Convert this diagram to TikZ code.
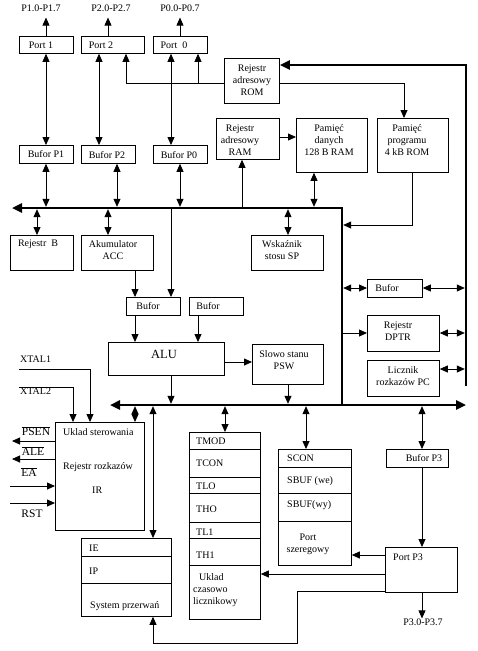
\documentclass[tikz,border=0pt]{standalone}
\usepackage{fontspec}
\setmainfont{Liberation Serif}
\usetikzlibrary{arrows.meta}
\newcommand\mybox[5]{\node[box, minimum width={#4-#2}, minimum height={#5-#3}] (#1) at (#2,#3) {};}
\begin{document}
\begin{tikzpicture}[x=1pt,y=-1pt,
  box/.style={draw, line width=0.8pt, inner sep=0pt, anchor=north west},
  lbl/.style={inner sep=0pt, font=\fontsize{10}{12}\selectfont, align=center},
  lbll/.style={lbl, anchor=west, align=left},
  sig/.style={inner sep=0pt, font=\fontsize{11.5}{13}\selectfont},
  ln/.style={line width=0.8pt},
  arr/.style={ln, -{Triangle[length=8pt,width=7pt]}},
  darr/.style={ln, {Triangle[length=8pt,width=7pt]}-{Triangle[length=8pt,width=7pt]}},
  bus/.style={line width=2.4pt},
  busarr/.style={-{Triangle[length=10pt,width=9pt]}},
  busarrb/.style={{Triangle[length=10pt,width=9pt]}-{Triangle[length=10pt,width=9pt]}}]
\fill[white] (0,0) rectangle (478,651);
\useasboundingbox (0,0) rectangle (478,651);
\coordinate (busA) at (0,208);
\coordinate (busAt) at (0,206.8);
\coordinate (busAb) at (0,209.2);
\coordinate (busB) at (0,405);
\coordinate (busBt) at (0,403.8);
\coordinate (busBb) at (0,406.2);

% ---------- boxes ----------
\mybox{port1}{19}{36}{73}{53}
\mybox{port2}{81}{36}{144}{53}
\mybox{port0}{153}{36}{207}{53}
\mybox{bp1}{19}{145}{73}{163}
\mybox{bp2}{81}{145}{135}{163}
\mybox{bp0}{153}{145}{207}{163}
\mybox{romreg}{224}{58}{279}{103}
\mybox{ramreg}{216}{118}{279}{159}
\mybox{datamem}{296}{118}{367}{172}
\mybox{progmem}{377}{118}{448}{172}
\mybox{regb}{10}{235}{73}{270}
\mybox{acc}{81}{235}{153}{270}
\mybox{sp}{251}{235}{323}{270}
\mybox{buf1}{126}{297}{180}{315}
\mybox{buf2}{189}{297}{243}{315}
\mybox{alu}{108}{342}{224}{375}
\mybox{psw}{252}{344}{323}{384}
\mybox{bufr}{367}{279}{422}{297}
\mybox{dptr}{367}{315}{439}{351}
\mybox{pc}{367}{360}{439}{396}
\mybox{ctrl}{55}{422}{144}{530}
\mybox{ints}{81}{538}{171}{616}
\mybox{timer}{189}{432}{260}{619}
\mybox{serial}{278}{449}{351}{565}
\mybox{bp3}{386}{449}{448}{467}
\mybox{pp3}{385}{547}{457}{592}

% dividers
\foreach \yy in {556,583} \draw[ln] (ints.west |- 0,\yy) -- (ints.east |- 0,\yy);
\foreach \yy in {449,477,493,522,538,565} \draw[ln] (timer.west |- 0,\yy) -- (timer.east |- 0,\yy);
\foreach \yy in {467,493,521} \draw[ln] (serial.west |- 0,\yy) -- (serial.east |- 0,\yy);

% ---------- texts ----------
\node[lbl] (lp1) at (41,8) {P1.0-P1.7};
\node[lbl] (lp2) at (111,8) {P2.0-P2.7};
\node[lbl] (lp0) at (180,8) {P0.0-P0.7};
\node[lbl] (tport1) at (41,45) {Port 1};
\node[lbl] (tport2) at (101,45) {Port 2};
\node[lbl] (tport0) at (174,45) {Port\ \ 0};
\node[lbl] (tbp1) at (46,154) {Bufor P1};
\node[lbl] (tbp2) at (107,155) {Bufor P2};
\node[lbl] (tbp0) at (179,155) {Bufor P0};
\node[lbl] (tromreg) at (252,80) {Rejestr\\adresowy\\ROM};
\node[lbl] (tramreg) at (240,140) {Rejestr\\adresowy\\RAM};
\node[lbl] (tdatamem) at (329,140) {Pamięć\\danych\\128 B RAM};
\node[lbl] (tprogmem) at (407,140) {Pamięć\\programu\\4 kB ROM};
\node[lbl] (tregb) at (38,244) {Rejestr\ \ B};
\node[lbl] (tacc) at (113,250) {Akumulator\\ACC};
\node[lbl] (tsp) at (282,250) {Wskaźnik\\stosu SP};
\node[lbl] (tbuf1) at (148,306) {Bufor};
\node[lbl] (tbuf2) at (208,306) {Bufor};
\node[inner sep=0pt, font=\fontsize{12.5}{14}\selectfont] (talu) at (164,354) {ALU};
\node[lbl] (tpsw) at (284,360) {Slowo stanu\\PSW};
\node[lbl] (tbufr) at (387,288) {Bufor};
\node[lbl] (tdptr) at (398,331) {Rejestr\\DPTR};
\node[lbl] (tpc) at (403,376) {Licznik\\rozkazów PC};
\node[lbll] (tctrl1) at (63,432) {Uklad sterowania};
\node[lbll] (tctrl2) at (63,467) {Rejestr rozkazów};
\node[lbll] (tctrl3) at (92,490) {IR};
\node[lbll] (tie) at (89,548) {IE};
\node[lbll] (tip) at (89,571) {IP};
\node[lbll] (tsys) at (90,606) {System przerwań};
\node[lbll] (ttmod) at (196,441) {TMOD};
\node[lbll] (ttcon) at (196,463) {TCON};
\node[lbll] (ttlo) at (196,486) {TLO};
\node[lbll] (ttho) at (196,509) {THO};
\node[lbll] (ttl1) at (196,532) {TL1};
\node[lbll] (tth1) at (196,555) {TH1};
\node[lbll] (ttimer) at (193,590) {\hspace{6pt}Uklad\\czasowo\\licznikowy};
\node[lbll] (tscon) at (287,458) {SCON};
\node[lbll] (tsbufwe) at (287,481) {SBUF (we)};
\node[lbll] (tsbufwy) at (287,505) {SBUF(wy)};
\node[lbl] (tserial) at (308,544) {Port\\szeregowy};
\node[lbl] (tbp3) at (424,458) {Bufor P3};
\node[lbll] (tpp3) at (393,557) {Port P3};
\node[lbl] (lp3) at (423,622) {P3.0-P3.7};
\node[lbll] (txtal1) at (20,359) {XTAL1};
\node[lbll] (txtal2) at (20,391) {XTAL2};
\node[sig] (tpsen) at (36,431) {$\overline{\hbox{PSEN}}$};
\node[sig] (tale) at (33,451) {$\overline{\hbox{ALE}}$};
\node[sig] (tea) at (29,472) {$\overline{\hbox{EA}}$};
\node[sig] (trst) at (32,514) {RST};

% ---------- buses ----------
\draw[bus, busarr] (342,0 |- busB) -- (342,0 |- busA) -- (12,0 |- busA);
\draw[bus, busarrb] (110,0 |- busB) -- (466,0 |- busB);
\draw[bus, busarr] (466,386) -- (466,65) -- (romreg.east |- 0,65);

% ---------- top connectors ----------
\draw[arr, shorten >=6pt] (46,0 |- port1.north) -- (46,0 |- lp1.south);
\draw[arr, shorten >=6pt] (108,0 |- port2.north) -- (108,0 |- lp2.south);
\draw[arr, shorten >=6pt] (180,0 |- port0.north) -- (180,0 |- lp0.south);
\draw[darr] (46,0 |- port1.south) -- (46,0 |- bp1.north);
\draw[darr] (99,0 |- port2.south) -- (99,0 |- bp2.north);
\draw[darr] (171,0 |- port0.south) -- (171,0 |- bp0.north);
\draw[darr] (46,0 |- bp1.south) -- (46,0 |- busAt);
\draw[darr] (117,0 |- bp2.south) -- (117,0 |- busAt);
\draw[darr] (180,0 |- bp0.south) -- (180,0 |- busAt);
\draw[arr] (romreg.west |- 0,83) -| (126,0 |- port2.south);
\draw[arr] (198,83) -- (198,0 |- port0.south);
\draw[arr] (romreg.east |- 0,83) -| (404,0 |- progmem.north);
\draw[arr] (ramreg.east |- 0,137) -- (datamem.west |- 0,137);
\draw[arr] (242,0 |- busAt) -- (242,0 |- ramreg.south);
\draw[darr] (314,0 |- datamem.south) -- (314,0 |- busAt);
\draw[arr] (412,0 |- progmem.south) |- (343.2,225);

% ---------- middle connectors ----------
\draw[darr] (37,0 |- busAb) -- (37,0 |- regb.north);
\draw[darr] (108,0 |- busAb) -- (108,0 |- acc.north);
\draw[arr] (135,0 |- acc.south) -- (135,0 |- buf1.north);
\draw[arr] (171,0 |- busAb) -- (171,0 |- buf1.north);
\draw[arr] (135,0 |- buf1.south) -- (135,0 |- alu.north);
\draw[arr] (198,0 |- buf2.south) -- (198,0 |- alu.north);
\draw[arr] (alu.east |- 0,362) -- (psw.west |- 0,362);
\draw[arr] (171,0 |- alu.south) -- (171,0 |- busBt);
\draw[arr] (288,0 |- psw.south) -- (288,0 |- busBt);
\draw[darr] (288,0 |- busAb) -- (288,0 |- sp.north);
\draw[darr] (343.2,288) -- (bufr.west |- 0,288);
\draw[darr] (bufr.east |- 0,288) -- (464.8,288);
\draw[arr] (343.2,333) -- (dptr.west |- 0,333);
\draw[darr] (dptr.east |- 0,333) -- (464.8,333);
\draw[darr] (pc.east |- 0,369) -- (464.8,369);

% ---------- bottom connectors ----------
\draw[arr] (19,369) -| (90,0 |- ctrl.north);
\draw[arr] (19,387) -| (73,0 |- ctrl.north);
\draw[darr] (135,0 |- busBb) -- (135,0 |- ctrl.north);
\draw[darr] (153,0 |- busBb) -- (153,0 |- ints.north);
\draw[darr] (225,0 |- busBb) -- (225,0 |- timer.north);
\draw[darr] (306,0 |- busBb) -- (306,0 |- serial.north);
\draw[darr] (422,0 |- busBb) -- (422,0 |- bp3.north);
\draw[arr] (422,0 |- bp3.south) -- (422,0 |- pp3.north);
\draw[arr] (422,0 |- pp3.south) -- (422,0 |- lp3.north);
\draw[arr] (pp3.west |- 0,555) -- (serial.east |- 0,555);
\draw[arr] (pp3.west |- 0,574) -- (timer.east |- 0,574);
\draw[arr] (pp3.west |- 0,591) -| (297,643) -| (153,0 |- ints.south);
\draw[arr] (ctrl.west |- 0,441) -- (12,441);
\draw[arr] (ctrl.west |- 0,459) -- (12,459);
\draw[arr] (10,486) -- (ctrl.west |- 0,486);
\draw[arr] (10,503) -- (ctrl.west |- 0,503);
\end{tikzpicture}
\end{document}
